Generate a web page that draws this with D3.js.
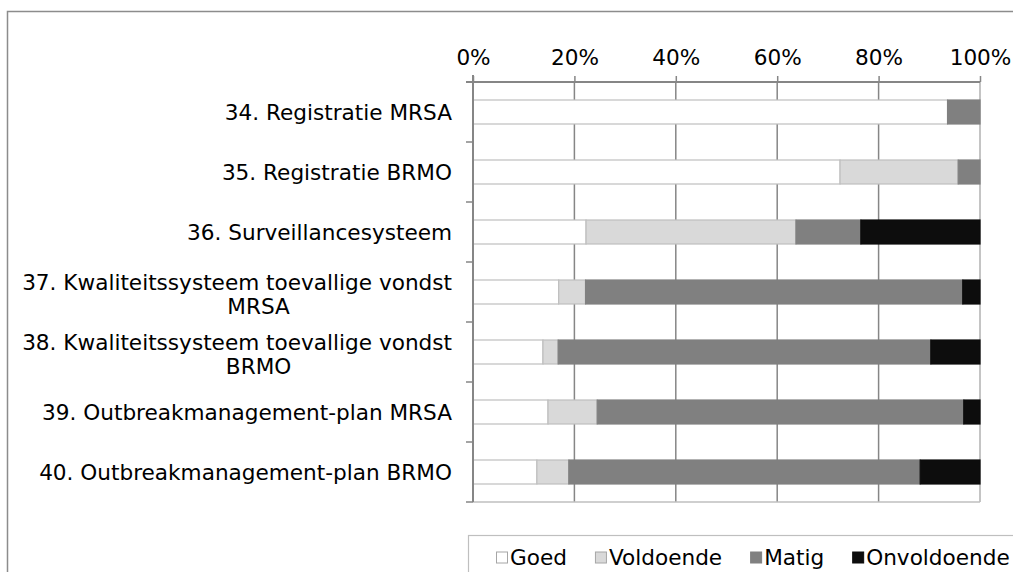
<!DOCTYPE html>
<html>
<head>
<meta charset="utf-8">
<script src="https://cdn.jsdelivr.net/npm/d3@7"></script>
<style>
  body { margin: 0; background: #fff; }
  text { font-family: "DejaVu Sans", Verdana, sans-serif; fill: #000; }
</style>
</head>
<body>
<svg id="chart"></svg>
<script>
const categories = [
    ['34. Registratie MRSA'],
    ['35. Registratie BRMO'],
    ['36. Surveillancesysteem'],
    ['37. Kwaliteitssysteem toevallige vondst', 'MRSA'],
    ['38. Kwaliteitssysteem toevallige vondst', 'BRMO'],
    ['39. Outbreakmanagement-plan MRSA'],
    ['40. Outbreakmanagement-plan BRMO']
];
const seriesNames = ['Goed', 'Voldoende', 'Matig', 'Onvoldoende'];
const goed = [93.6, 72.4, 22.3, 16.9, 13.8, 14.8, 12.6];
const voldoende = [0, 23.3, 41.4, 5.3, 3.0, 9.7, 6.3];
const matig = [6.4, 4.3, 12.8, 74.4, 73.5, 72.3, 69.3];
const onvoldoende = [0, 0, 23.5, 3.4, 9.7, 3.2, 11.8];
const tickValues = [0, 20, 40, 60, 80, 100];

const fills = ['#ffffff', '#d9d9d9', '#808080', '#0d0d0d'];
const strokes = ['#bfbfbf', '#bfbfbf', '#808080', '#0d0d0d'];

const w = 1013, h = 572;
const margin = { left: 473, right: 33, top: 82, bottom: 70 };
const fontSize = 21.6;

const rows = categories.map((c, i) => ({
    label: c,
    Goed: goed[i], Voldoende: voldoende[i], Matig: matig[i], Onvoldoende: onvoldoende[i]
}));

const xScale = d3.scaleLinear()
    .domain([0, 100])
    .range([margin.left, w - margin.right]);

const yScale = d3.scaleBand()
    .domain(d3.range(categories.length))
    .range([margin.top, h - margin.bottom])
    .paddingInner(0.6)
    .paddingOuter(0.3);

const chart = d3.select('#chart')
    .attr('width', w)
    .attr('height', h);

// outer chart border
chart.append('rect')
    .attr('x', 7.5).attr('y', 11.5)
    .attr('width', w + 20).attr('height', h + 20)
    .style('fill', 'none')
    .style('stroke', '#8c8c8c')
    .style('stroke-width', 1.5);

const yTop = margin.top, yBottom = h - margin.bottom;

// vertical gridlines
chart.append('g')
    .selectAll('line')
    .data(tickValues)
    .join('line')
    .attr('x1', d => xScale(d)).attr('x2', d => xScale(d))
    .attr('y1', yTop).attr('y2', yBottom)
    .style('stroke', d => d === 100 ? '#b0b0b0' : '#868686')
    .style('stroke-width', 1.5);

// bottom border of plot
chart.append('line')
    .attr('x1', xScale(0)).attr('x2', xScale(100))
    .attr('y1', yBottom).attr('y2', yBottom)
    .style('stroke', '#bfbfbf')
    .style('stroke-width', 1.5);

// stacked bars
const stack = d3.stack().keys(seriesNames);
const stacked = stack(rows);

chart.append('g')
    .selectAll('g')
    .data(stacked)
    .join('g')
    .style('fill', (d, i) => fills[i])
    .style('stroke', (d, i) => strokes[i])
    .style('stroke-width', 1.2)
    .selectAll('rect')
    .data(d => d.map((v, i) => ({ v, i })))
    .join('rect')
    .attr('x', d => xScale(d.v[0]))
    .attr('y', d => yScale(d.i))
    .attr('width', d => xScale(d.v[1]) - xScale(d.v[0]))
    .attr('height', yScale.bandwidth())
    .style('display', d => d.v[1] - d.v[0] > 0 ? null : 'none');

// top axis
const topAxis = chart.append('g')
    .attr('transform', `translate(0, ${yTop})`)
    .call(d3.axisTop(xScale).tickValues(tickValues).tickSize(6).tickPadding(11)
        .tickFormat(d => d + '%'));
topAxis.select('.domain').remove();
topAxis.append('line')
    .attr('x1', margin.left - 7).attr('x2', xScale(100))
    .style('stroke', '#868686').style('stroke-width', 2);
topAxis.selectAll('.tick line').style('stroke', '#868686').style('stroke-width', 1.5);
topAxis.selectAll('.tick text')
    .style('font-family', '"DejaVu Sans", Verdana, sans-serif')
    .style('font-size', fontSize + 'px')
    .style('fill', '#000');

// left axis line and ticks between categories
const boundaries = d3.range(categories.length + 1).map(i => yTop + i * (yBottom - yTop) / categories.length);
chart.append('line')
    .attr('x1', margin.left).attr('x2', margin.left)
    .attr('y1', yTop - 7).attr('y2', yBottom)
    .style('stroke', '#868686').style('stroke-width', 2);
chart.append('g')
    .selectAll('line')
    .data(boundaries.slice(1))
    .join('line')
    .attr('x1', margin.left - 7).attr('x2', margin.left)
    .attr('y1', d => d).attr('y2', d => d)
    .style('stroke', '#868686').style('stroke-width', 1.5);

// category labels (wrapped ones: second line sits a bit right of centre, as in Excel)
const labelRight = margin.left - 21;
const lineH = 24;
categories.forEach((lines, i) => {
    const cy = yScale(i) + yScale.bandwidth() / 2;
    const g = chart.append('text')
        .style('font-size', fontSize + 'px')
        .attr('dominant-baseline', 'central');
    if (lines.length === 1) {
        g.attr('x', labelRight).attr('y', cy).attr('text-anchor', 'end').text(lines[0]);
    } else {
        const spans = lines.map((t, j) => g.append('tspan')
            .attr('y', cy + 2 + (j - (lines.length - 1) / 2) * lineH)
            .text(t));
        const maxW = spans[0].node().getComputedTextLength();
        spans[0].attr('x', labelRight - maxW / 2);
        spans[1].attr('x', labelRight - maxW * 0.45);
        g.attr('text-anchor', 'middle');
    }
});

// legend
const legend = chart.append('g');
legend.append('rect')
    .attr('x', 468.5).attr('y', 535.5)
    .attr('width', 600).attr('height', 60)
    .style('fill', '#fff')
    .style('stroke', '#bfbfbf')
    .style('stroke-width', 1.2);

let lx = 496;
const ly = 557.5;
seriesNames.forEach((name, i) => {
    legend.append('rect')
        .attr('x', lx + 0.5).attr('y', ly - 5.5)
        .attr('width', 11).attr('height', 11)
        .style('fill', fills[i])
        .style('stroke', i < 2 ? '#a6a6a6' : fills[i]);
    const t = legend.append('text')
        .attr('x', lx + 14)
        .attr('y', ly)
        .attr('dominant-baseline', 'central')
        .style('font-size', fontSize + 'px')
        .text(name);
    lx += 14 + t.node().getComputedTextLength() + 28;
});
</script>
</body>
</html>
